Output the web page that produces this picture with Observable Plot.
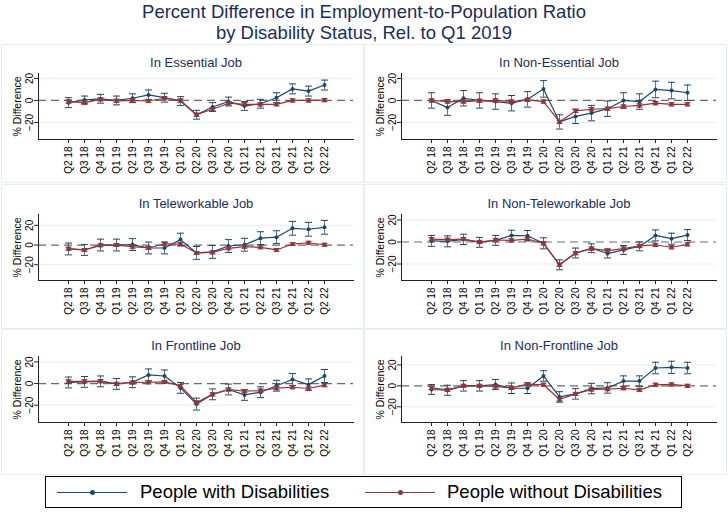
<!DOCTYPE html>
<html><head><meta charset="utf-8">
<script src="https://cdn.jsdelivr.net/npm/d3@7"></script>
<script src="https://cdn.jsdelivr.net/npm/@observablehq/plot@0.6"></script>
<style>
body{margin:0;background:#fff;font-family:"Liberation Sans",Arial,sans-serif;}
#root{position:relative;width:728px;height:514px;overflow:hidden;background:#fff;}
.title{position:absolute;left:0;top:1px;width:728px;text-align:center;font-size:18.5px;line-height:21px;color:#1a2d5a;}
.cell{position:absolute;border:1px solid #e6eef1;box-sizing:border-box;}
.panel{position:absolute;}
.legend{position:absolute;left:45px;top:476px;width:637px;height:32px;border:1px solid #000;box-sizing:border-box;}
.legend .ln{position:absolute;height:0;border-top:1.5px solid;top:15px;}
.legend .dt{position:absolute;width:5px;height:5px;border-radius:50%;top:13px;}
.legend .tx{position:absolute;top:4px;font-size:18.5px;line-height:22px;color:#000;white-space:nowrap;}
</style></head><body><div id="root"></div>
<script>
const quarters = ["Q2 18","Q3 18","Q4 18","Q1 19","Q2 19","Q3 19","Q4 19","Q1 20","Q2 20","Q3 20","Q4 20","Q1 21","Q2 21","Q3 21","Q4 21","Q1 22","Q2 22"];
const seriesNames = ["People with Disabilities","People without Disabilities"];
const panelTitles = ["In Essential Job","In Non-Essential Job","In Teleworkable Job","In Non-Teleworkable Job","In Frontline Job","In Non-Frontline Job"];
const yLabel = "% Difference";
const yTicks = [-20, 0, 20];

const essentialWith      = [-2, 0.5, 1.5, 0, 2, 5, 2.5, -0.5, -13, -6, -1, -5, -3, 2.5, 10.5, 8.5, 14];
const essentialWithCI    = [4.5, 3.5, 4, 4, 4, 4.5, 4, 4, 4, 4, 4, 4, 4, 4.5, 4.5, 4.5, 4.5];
const essentialWithout   = [-1, -2, 1, -0.3, 0, -0.5, 2, 0, -13, -8, -2.5, -3.5, -3.5, -3.5, 0, 0, 0.3];

const nonEssentialWith    = [0, -6.5, 2, 0, -1, -2.5, 1, 10.5, -19.5, -14.5, -11.5, -7.5, 0, -1, 10, 9, 7];
const nonEssentialWithCI  = [7, 7, 7, 7, 7, 7, 7, 7.5, 6.5, 6.5, 7, 7, 7, 7, 7.5, 7.5, 7];
const nonEssentialWithout = [0, -1, -1, -0.3, 0, -1, 0.5, -1, -19.5, -9.5, -8, -7.5, -5.5, -4.5, -2.5, -3.5, -3.5];

const teleWith    = [-4, -5, 0, 0, 0.5, -3, -3, 5.5, -8, -7, -1, 0.3, 7, 8, 17, 16, 18];
const teleWithCI  = [6, 5.5, 6, 6, 6, 6, 6, 6.5, 6.5, 6.5, 6.5, 6.5, 6.5, 6.5, 7, 7, 7];
const teleWithout = [-3.7, -5, -0.3, 0, -1.7, -3, 1.3, 1, -8, -7.5, -3.3, -1.7, -2.3, -5, 1, 2.3, 0.3];

const nonTeleWith    = [1, 0.6, 2.4, -0.3, 1.5, 6, 5.7, -1.2, -20.7, -10, -5.7, -10.5, -7.2, -4, 6, 3, 6.3];
const nonTeleWithCI  = [5, 5, 4.7, 4.5, 4.5, 4.7, 4.7, 5, 4.5, 4.5, 4, 4, 4, 4, 5, 5, 5];
const nonTeleWithout = [2.7, 2.1, 2.7, 0, 1.8, 1.5, 2.7, -1.2, -20.7, -10.2, -6, -7.8, -6, -3.6, -2.7, -4.8, -2.1];

const frontWith    = [1, 1.5, 2, -0.3, 1.2, 8, 7, -4, -19, -10, -5.5, -10.5, -8, -2, 3.7, -1, 7];
const frontWithCI  = [5, 5, 5, 5, 5, 5.5, 5.5, 5, 5.5, 5, 5, 5, 5, 5, 5.5, 5.3, 6];
const frontWithout = [2, 2, 2.2, -0.3, 1, 1.2, 1.5, -2.2, -17.5, -10, -5.5, -7, -6.5, -4.3, -3.4, -4.6, -1.5];

const nonFrontWith    = [-3.5, -4.2, 0, 0, 1.2, -2.3, -2.3, 9.4, -10.6, -7.7, -2.6, -2, 4.5, 4.5, 17, 17.7, 17];
const nonFrontWithCI  = [4.7, 4.8, 5, 5, 4.8, 5, 5, 5, 5, 5, 5, 5, 5, 5, 5.5, 5.8, 5.5];
const nonFrontWithout = [-2, -3.8, 0, 0, -0.6, -2, 1.6, 1, -13, -7.7, -3.5, -3.2, -2.3, -3.8, 1, 1.3, 0];

const withoutCI = 1.5;
const yDomains = [[-35.5, 24.5], [-35.5, 24.5], [-36, 31], [-35, 25], [-36, 25], [-35, 28]];

const colors = ["#1a476f", "#90353b"];
const ink = "#1a2d5a";

const panels = [
  {title: panelTitles[0], w: essentialWith, wci: essentialWithCI, wo: essentialWithout, y: yDomains[0]},
  {title: panelTitles[1], w: nonEssentialWith, wci: nonEssentialWithCI, wo: nonEssentialWithout, y: yDomains[1]},
  {title: panelTitles[2], w: teleWith, wci: teleWithCI, wo: teleWithout, y: yDomains[2]},
  {title: panelTitles[3], w: nonTeleWith, wci: nonTeleWithCI, wo: nonTeleWithout, y: yDomains[3]},
  {title: panelTitles[4], w: frontWith, wci: frontWithCI, wo: frontWithout, y: yDomains[4]},
  {title: panelTitles[5], w: nonFrontWith, wci: nonFrontWithCI, wo: nonFrontWithout, y: yDomains[5]}
];

const cap = {draw(ctx, size){ const w = Math.sqrt(size / Math.PI); ctx.moveTo(-w, 0); ctx.lineTo(w, 0); }};

const root = document.getElementById("root");
const t = document.createElement("div");
t.className = "title";
t.innerHTML = "Percent Difference in Employment-to-Population Ratio<br>by Disability Status, Rel. to Q1 2019";
root.appendChild(t);

// faint cell outlines
const cellTops = [44, 184, 329], cellH = [139, 145, 146];
for (let r = 0; r < 3; r++) for (let c = 0; c < 2; c++) {
  const d = document.createElement("div");
  d.className = "cell";
  d.style.left = (c === 0 ? 1 : 364) + "px";
  d.style.top = cellTops[r] + "px";
  d.style.width = "363px";
  d.style.height = cellH[r] + "px";
  root.appendChild(d);
}

const panelLefts = [0, 363], panelTops = [48, 189, 331];

panels.forEach((p, k) => {
  const blue = quarters.map((q, i) => ({q, g: seriesNames[0], v: p.w[i], lo: p.w[i] - p.wci[i], hi: p.w[i] + p.wci[i]}));
  const red = quarters.map((q, i) => ({q, g: seriesNames[1], v: p.wo[i], lo: p.wo[i] - withoutCI, hi: p.wo[i] + withoutCI}));
  const svg = Plot.plot({
    width: 364, height: 141,
    marginTop: 25, marginBottom: 50, marginLeft: 38, marginRight: 11,
    style: {fontFamily: "Liberation Sans, Arial, sans-serif", fontSize: "10px", color: "#000", background: "transparent", overflow: "visible"},
    x: {type: "point", domain: quarters, padding: 1.33, axis: null},
    y: {domain: p.y, axis: null},
    marks: [
      Plot.ruleY(yTicks.filter(v => v !== 0), {stroke: "#e4eef1", strokeWidth: 1}),
      Plot.ruleY([0], {stroke: "#6a6a6a", strokeWidth: 1.2, strokeDasharray: "8,5"}),
      Plot.frame({anchor: "left", stroke: "#222"}),
      Plot.frame({anchor: "bottom", stroke: "#222"}),
      Plot.axisY({ticks: yTicks, tickSize: 4, tickPadding: 2, tickRotate: -90, textAnchor: "middle", lineAnchor: "bottom", label: null, stroke: "#222"}),
      Plot.axisX({tickSize: 4, tickPadding: 3, tickRotate: -90, textAnchor: "end", lineAnchor: "middle", label: null, stroke: "#222"}),
      Plot.text([yLabel], {frameAnchor: "left", dx: -21, rotate: -90, textAnchor: "middle", lineAnchor: "middle", fontSize: 10.5, fill: "#000"}),
      Plot.text([p.title], {frameAnchor: "top", dy: -11, textAnchor: "middle", lineAnchor: "middle", fontSize: 13, fill: ink}),
      // people with disabilities
      Plot.ruleX(blue, {x: "q", y1: "lo", y2: "hi", stroke: colors[0], strokeWidth: 1, strokeOpacity: 0.75}),
      Plot.dot(blue, {x: "q", y: "lo", symbol: cap, r: 3.5, stroke: colors[0], fill: "none", strokeWidth: 1}),
      Plot.dot(blue, {x: "q", y: "hi", symbol: cap, r: 3.5, stroke: colors[0], fill: "none", strokeWidth: 1}),
      Plot.line(blue, {x: "q", y: "v", stroke: colors[0], strokeWidth: 1.2}),
      Plot.dot(blue, {x: "q", y: "v", r: 2, fill: colors[0]}),
      // people without disabilities
      Plot.ruleX(red, {x: "q", y1: "lo", y2: "hi", stroke: colors[1], strokeWidth: 1, strokeOpacity: 0.75}),
      Plot.dot(red, {x: "q", y: "lo", symbol: cap, r: 3, stroke: colors[1], fill: "none", strokeWidth: 1}),
      Plot.dot(red, {x: "q", y: "hi", symbol: cap, r: 3, stroke: colors[1], fill: "none", strokeWidth: 1}),
      Plot.line(red, {x: "q", y: "v", stroke: colors[1], strokeWidth: 1.2}),
      Plot.dot(red, {x: "q", y: "v", r: 2.2, symbol: "square", fill: colors[1]})
    ]
  });
  const wrap = document.createElement("div");
  wrap.className = "panel";
  wrap.style.left = panelLefts[k % 2] + "px";
  wrap.style.top = panelTops[Math.floor(k / 2)] + "px";
  wrap.appendChild(svg);
  root.appendChild(wrap);
});

// legend
const lg = document.createElement("div");
lg.className = "legend";
const items = [{x: 11, tx: 94}, {x: 319, tx: 401}];
items.forEach((it, i) => {
  const ln = document.createElement("div");
  ln.className = "ln"; ln.style.left = it.x + "px"; ln.style.width = "70px"; ln.style.borderColor = colors[i];
  const dt = document.createElement("div");
  dt.className = "dt"; dt.style.left = (it.x + 33) + "px"; dt.style.background = colors[i];
  const tx = document.createElement("div");
  tx.className = "tx"; tx.style.left = it.tx + "px"; tx.textContent = seriesNames[i];
  lg.appendChild(ln); lg.appendChild(dt); lg.appendChild(tx);
});
root.appendChild(lg);
</script></body></html>
